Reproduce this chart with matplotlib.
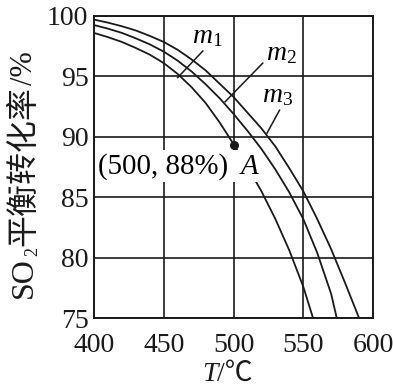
import matplotlib
matplotlib.use("Agg")
import matplotlib.pyplot as plt
from matplotlib.patches import Rectangle

plt.rcParams['font.family'] = ['Liberation Serif', 'Noto Sans CJK SC', 'DejaVu Sans']
plt.rcParams['mathtext.fontset'] = 'custom'
plt.rcParams['mathtext.rm'] = 'Liberation Serif'
plt.rcParams['mathtext.it'] = 'Liberation Serif:italic'

# ---- data ----
x_ticks = [400, 450, 500, 550, 600]
y_ticks = [75, 80, 85, 90, 95, 100]

T_m1 = [400, 410, 420, 430, 440, 450, 460, 470, 480, 490, 500, 510, 520, 530, 540, 550, 557]
v_m1 = [98.6, 98.25, 97.85, 97.35, 96.8, 96.1, 95.2, 94.1, 92.8, 91.2, 89.4, 87.5, 85.5, 83.2, 80.6, 77.6, 75.0]

T_m2 = [400, 410, 420, 430, 440, 450, 460, 470, 480, 490, 500, 510, 520, 530, 540, 550, 560, 570, 574]
v_m2 = [99.25, 98.95, 98.6, 98.15, 97.65, 97.05, 96.3, 95.4, 94.35, 93.2, 91.9, 90.5, 89.0, 87.3, 85.4, 83.2, 80.4, 77.0, 75.0]

T_m3 = [400, 410, 420, 430, 440, 450, 460, 470, 480, 490, 500, 510, 520, 530, 540, 550, 560, 570, 580, 590]
v_m3 = [99.7, 99.45, 99.15, 98.8, 98.35, 97.85, 97.2, 96.4, 95.5, 94.4, 93.3, 92.0, 90.7, 89.2, 87.4, 85.5, 83.2, 80.7, 77.9, 75.0]

point_A = (500, 89.3)
point_label = "(500, 88%)"

W, H = 393, 388
fig = plt.figure(figsize=(W / 100, H / 100), dpi=100)
ax = fig.add_axes([0.2392, 0.1804, 0.7099, 0.7784])

ink = '#1a1a1a'
lw = 1.3
for T, v in [(T_m1, v_m1), (T_m2, v_m2), (T_m3, v_m3)]:
    ax.plot(T, v, color=ink, lw=lw, zorder=3)

ax.plot(*point_A, 'o', color=ink, ms=5.5, zorder=7)

# leader lines for curve labels
ax.plot([478, 460], [97.1, 94.9], color=ink, lw=1.1, zorder=3)
ax.plot([521, 494], [96.1, 92.9], color=ink, lw=1.1, zorder=3)
ax.plot([533, 524], [92.2, 90.3], color=ink, lw=1.1, zorder=3)

fs = 20
ax.text(470, 98.3, r'$m_1$', fontsize=fs, ha='left', va='center', zorder=6)
ax.text(523.6, 96.9, r'$m_2$', fontsize=fs, ha='left', va='center', zorder=6)
ax.text(520.6, 93.4, r'$m_3$', fontsize=fs, ha='left', va='center', zorder=6)

# white box behind annotation text
ax.add_patch(Rectangle((0.007, 0.45), 0.581, 0.105, transform=ax.transAxes,
                       facecolor='white', edgecolor='none', zorder=5))
ax.text(403, 87.5, point_label, fontsize=fs + 0.8, ha='left', va='center', zorder=6)
ax.text(504, 87.5, r'$A$', fontsize=fs + 0.8, ha='left', va='center', zorder=6)

ax.set_xlim(400, 600)
ax.set_ylim(75, 100)
ax.set_xticks(x_ticks)
ax.set_yticks(y_ticks)
ax.tick_params(length=0, labelsize=fs, colors=ink)
ax.tick_params(axis='x', pad=11)
ax.tick_params(axis='y', pad=4)
ax.grid(True, color=ink, lw=1.2, zorder=1)
ax.set_axisbelow(True)
for s in ax.spines.values():
    s.set_linewidth(1.4)
    s.set_color(ink)

renderer = fig.canvas.get_renderer()
inv = fig.transFigure.inverted()

# ---- y label, assembled from pieces (rotated 90, reading bottom-to-top) ----
base_x = 32 / W
y0 = (H - 298) / H
pieces = [("SO", 23, 0), ("2", 13, 5), ("平衡转化率", 23, 0), ("/%", 22, 0)]
cur = y0
for txt, size, dx in pieces:
    t = fig.text(base_x + dx / W, cur, txt, fontsize=size, rotation=90,
                 rotation_mode='anchor', ha='left', va='baseline', color=ink)
    ext = t.get_window_extent(renderer)
    cur = inv.transform((0, ext.y1))[1] + 1.0 / H

# ---- x label: italic T then /℃ ----
bx = 202 / W
by = (H - 381) / H
t1 = fig.text(bx, by, "T", fontsize=fs, fontstyle='italic', ha='left', va='baseline', color=ink)
ext = t1.get_window_extent(renderer)
nx = inv.transform((ext.x1, 0))[0]
fig.text(nx, by, "/℃", fontsize=fs, ha='left', va='baseline', color=ink)

fig.savefig('out.png', dpi=100)
